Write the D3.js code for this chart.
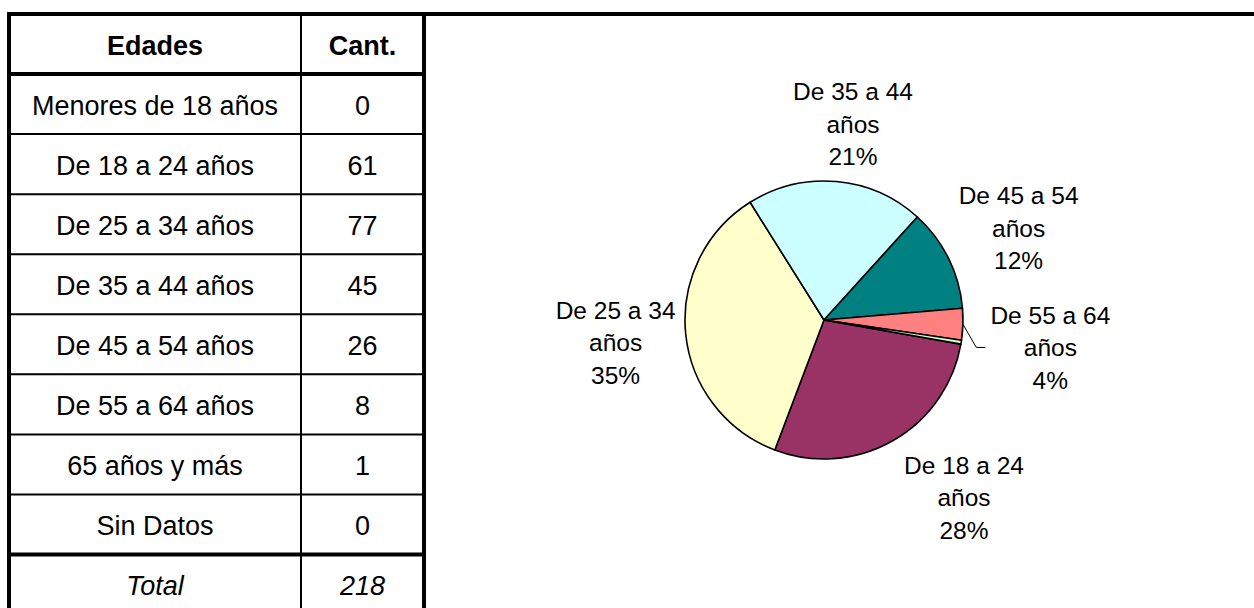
<!DOCTYPE html>
<html>
<head>
<meta charset="utf-8">
<script src="https://cdn.jsdelivr.net/npm/d3@7"></script>
<style>
  body { margin: 0; background: #fff; }
  svg { display: block; font-family: "Liberation Sans", Arial, sans-serif; }
</style>
</head>
<body>
<svg></svg>
<script>
// data
const edades = ['Menores de 18 años', 'De 18 a 24 años', 'De 25 a 34 años', 'De 35 a 44 años',
  'De 45 a 54 años', 'De 55 a 64 años', '65 años y más', 'Sin Datos'];
const cantidades = [0, 61, 77, 45, 26, 8, 1, 0];
const encabezados = ['Edades', 'Cant.'];
const totalLabel = 'Total';

const colores = ['#9999FF', '#993366', '#FFFFCC', '#CCFFFF', '#008080', '#FF8080', '#CCFFCC', '#FFCC99'];

let w = 1254;
let h = 608;

const svg = d3.select('svg')
  .attr('width', w)
  .attr('height', h)

const total = d3.sum(cantidades);

// ---- table ----
const rows = ['head', ...edades, 'total'];
const yRow = d3.scaleBand()
  .domain(rows)
  .range([14, 14 + 60.06 * rows.length])

const xCol = [9, 301, 424];
const colCenter = [(xCol[0] + xCol[1]) / 2, (xCol[1] + xCol[2]) / 2];

const tbl = svg.append('g').attr('id', 'tabla');

const tfont = 27;

// cell text
const cellRows = rows.map((r, i) => {
  if (r === 'head') return {key: r, cells: encabezados, weight: 'bold', style: 'normal'};
  if (r === 'total') return {key: r, cells: [totalLabel, String(total)], weight: 'normal', style: 'italic'};
  return {key: r, cells: [r, String(cantidades[i - 1])], weight: 'normal', style: 'normal'};
});

cellRows.forEach(r => {
  tbl.selectAll(null)
    .data(r.cells)
    .enter()
    .append('text')
    .attr('x', (d, j) => colCenter[j])
    .attr('y', yRow(r.key) + yRow.bandwidth() / 2)
    .attr('dy', '0.4em')
    .attr('text-anchor', 'middle')
    .attr('font-size', tfont)
    .attr('font-weight', r.weight)
    .attr('font-style', r.style)
    .attr('fill', '#000')
    .text(d => d)
});

// horizontal rules
rows.forEach((r, i) => {
  if (i === 0) return;
  const y = yRow(r);
  const thick = (r === edades[0] || r === 'total');
  tbl.append('line')
    .attr('x1', xCol[0]).attr('x2', xCol[2])
    .attr('y1', y).attr('y2', y)
    .attr('stroke', '#000')
    .attr('stroke-width', thick ? 4 : 2)
});

// top rule spans whole width
svg.append('line')
  .attr('x1', 7).attr('x2', w)
  .attr('y1', yRow('head')).attr('y2', yRow('head'))
  .attr('stroke', '#000')
  .attr('stroke-width', 4)

// vertical rules
xCol.forEach((x, i) => {
  tbl.append('line')
    .attr('x1', x).attr('x2', x)
    .attr('y1', yRow('head') - 2).attr('y2', h)
    .attr('stroke', '#000')
    .attr('stroke-width', i === 1 ? 2 : 4)
});

// ---- pie ----
const cx = 824, cy = 320, r = 139;
const deg = Math.PI / 180;

const pie = d3.pie()
  .value(d => d)
  .sort(null)
  .startAngle(100 * deg)
  .endAngle(460 * deg)

const arcs = pie(cantidades);
const arc = d3.arc().innerRadius(0).outerRadius(r);

const gPie = svg.append('g')
  .attr('transform', `translate(${cx},${cy})`)

gPie.selectAll('path')
  .data(arcs.filter(d => d.value > 0))
  .enter()
  .append('path')
  .attr('d', arc)
  .attr('fill', d => colores[d.index])
  .attr('stroke', '#000')
  .attr('stroke-width', 1.6)
  .attr('stroke-linejoin', 'round')

// labels
const lfont = 24.5;
const lineH = 32.5;
const halfW = 60, halfH = 48;
const labelNudge = {3: [11, 7], 4: [-8, 8], 5: [14, 21], 1: [30, -16], 2: [6, 1]};
const leader = new Set([5]);

const pct = v => Math.round(v / total * 100);

const labels = arcs.filter(d => pct(d.value) >= 1).map(d => {
  const a = (d.startAngle + d.endAngle) / 2;
  const s = Math.sin(a), c = -Math.cos(a);
  const dist = r + 12 + halfW * Math.abs(s) + halfH * Math.abs(c);
  const nd = labelNudge[d.index] || [0, 0];
  const name = edades[d.index];
  const cut = name.lastIndexOf(' ');
  return {
    d, a,
    x: dist * s + nd[0],
    y: dist * c + nd[1],
    lines: [name.slice(0, cut), name.slice(cut + 1), pct(d.value) + '%']
  };
});

const lab = gPie.selectAll('g.lab')
  .data(labels)
  .enter()
  .append('g')
  .attr('class', 'lab')

lab.append('text')
  .attr('text-anchor', 'middle')
  .attr('font-size', lfont)
  .attr('fill', '#000')
  .selectAll('tspan')
  .data(l => l.lines.map((t, i) => ({t, i, l})))
  .enter()
  .append('tspan')
  .attr('x', o => o.l.x)
  .attr('y', o => o.l.y + (o.i - 1) * lineH)
  .attr('dy', '0.36em')
  .text(o => o.t)

// leader line
lab.filter(l => leader.has(l.d.index))
  .append('polyline')
  .attr('points', l => {
    const p0 = [r * Math.sin(l.a), -r * Math.cos(l.a)];
    const xl = l.x - 65;
    return [p0, [xl - 9, l.y], [xl, l.y]].map(p => p.join(',')).join(' ');
  })
  .attr('fill', 'none')
  .attr('stroke', '#000')
  .attr('stroke-width', 1)
</script>
</body>
</html>
